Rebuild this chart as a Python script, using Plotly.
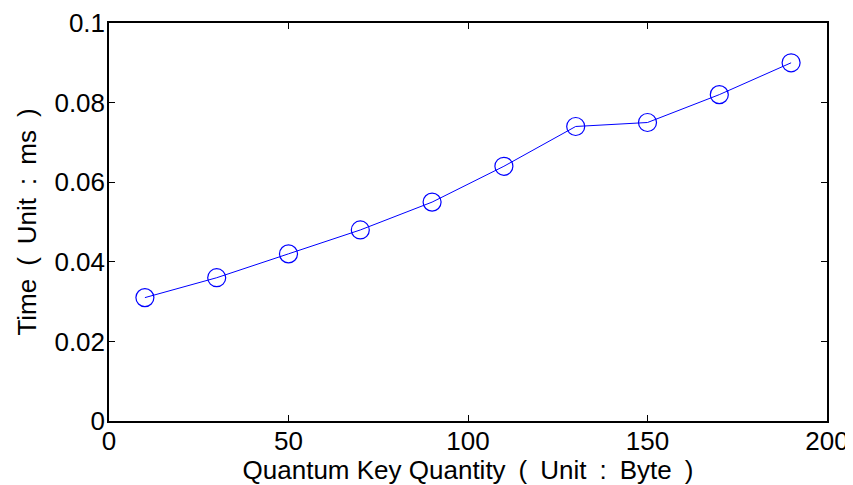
import plotly.graph_objects as go

key_quantity = [10, 30, 50, 70, 90, 110, 130, 150, 170, 190]
time_ms = [0.031, 0.036, 0.042, 0.048, 0.055, 0.064, 0.074, 0.075, 0.082, 0.090]

x_ticks = [0, 50, 100, 150, 200]
y_ticks = [0, 0.02, 0.04, 0.06, 0.08, 0.1]
y_tick_text = ["0", "0.02", "0.04", "0.06", "0.08", "0.1"]

x_title = "Quantum Key Quantity\u2002(\u2002Unit\u2002:\u2002Byte\u2002)"
y_title = "Time\u2002(\u2002Unit\u2002:\u2002ms\u2002)"

fig = go.Figure()
fig.add_trace(go.Scatter(
    x=key_quantity, y=time_ms, mode="lines+markers",
    line=dict(color="#0000ff", width=1),
    marker=dict(symbol="circle-open", size=18, color="#0000ff", line=dict(width=1.2)),
    showlegend=False,
))

tick_font = dict(family="Liberation Sans, Arial, sans-serif", size=26, color="black")
title_font = dict(family="Liberation Sans, Arial, sans-serif", size=26, color="black")
axis_common = dict(
    showline=True, linecolor="black", linewidth=1.5, mirror="ticks",
    ticks="inside", ticklen=6, tickcolor="black", tickwidth=1,
    showgrid=False, zeroline=False, tickfont=tick_font, automargin=False,
)
fig.update_xaxes(range=[0, 200], tickvals=x_ticks, ticklabelstandoff=-4,
                 title=dict(text=x_title, font=title_font, standoff=0),
                 **axis_common)
fig.update_yaxes(range=[0, 0.1], tickvals=y_ticks, ticktext=y_tick_text, ticklabelstandoff=-3,
                 title=dict(text=y_title, font=title_font, standoff=10),
                 **axis_common)
fig.update_layout(
    width=845, height=477,
    margin=dict(l=101, r=26, t=15, b=64),
    plot_bgcolor="white", paper_bgcolor="white",
    font=tick_font,
)
fig.write_html("out.html")
